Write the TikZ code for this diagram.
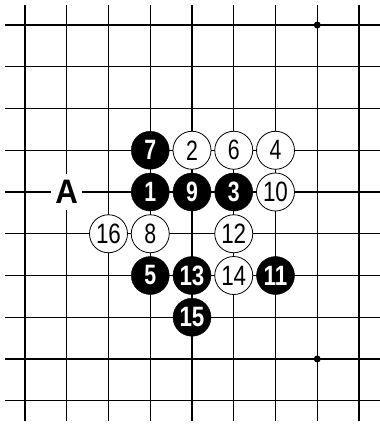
\documentclass[tikz,border=0pt]{standalone}
\usepackage{graphicx}
\usepackage{fontspec}
\setmainfont{Liberation Sans}
\newcommand\gx[1]{25+41.75*#1}
\newcommand\onedig[1]{\scalebox{0.76}[1]{#1}}
\newcommand\twodig[1]{\scalebox{0.8}[1]{#1}}
\newcommand\stn[5]{\node[#4] (#1) at ({\gx{#2}},{\gx{#3}}) {#5};}
\tikzset{
  gridline/.style={line width=1.4pt, line cap=butt},
  stonebase/.style={circle, minimum size=38pt, inner sep=0pt},
  bstone/.style={stonebase, fill=black, draw=black, text=white, font=\fontsize{28}{28}\selectfont\bfseries},
  wstone/.style={stonebase, fill=white, draw=black, line width=0.8pt, text=black, font=\fontsize{28}{28}\selectfont},
  starpt/.style={circle, fill=black, inner sep=0pt, minimum size=7pt},
  marklabel/.style={fill=white, inner sep=0pt, minimum width=31pt, minimum height=36pt, font=\fontsize{34}{34}\selectfont\bfseries}
}
\begin{document}
\begin{tikzpicture}[x=1pt,y=-1pt]
\useasboundingbox (0,0) rectangle (380,429);
\fill[white] (0,0) rectangle (380,429);
\foreach \i in {0,...,8} \draw[gridline] ({\gx{\i}},5) -- ({\gx{\i}},421);
\foreach \j in {0,...,9} \draw[gridline] (5,{\gx{\j}}) -- (380,{\gx{\j}});
\node[starpt] (s1) at ({\gx{7}},{\gx{0}}) {};
\node[starpt] (s2) at ({\gx{7}},{\gx{8}}) {};
\node[marklabel] (A) at ({\gx{1}},{\gx{4}}) {\scalebox{0.92}[1]{A}};
% row 3
\stn{m7}{3}{3}{bstone}{\onedig{7}}
\stn{m2}{4}{3}{wstone}{\onedig{2}}
\stn{m6}{5}{3}{wstone}{\onedig{6}}
\stn{m4}{6}{3}{wstone}{\onedig{4}}
% row 4
\stn{m1}{3}{4}{bstone}{\onedig{1}}
\stn{m9}{4}{4}{bstone}{\onedig{9}}
\stn{m3}{5}{4}{bstone}{\onedig{3}}
\stn{m10}{6}{4}{wstone}{\twodig{10}}
% row 5
\stn{m16}{2}{5}{wstone}{\twodig{16}}
\stn{m8}{3}{5}{wstone}{\onedig{8}}
\stn{m12}{5}{5}{wstone}{\twodig{12}}
% row 6
\stn{m5}{3}{6}{bstone}{\onedig{5}}
\stn{m13}{4}{6}{bstone}{\twodig{13}}
\stn{m14}{5}{6}{wstone}{\twodig{14}}
\stn{m11}{6}{6}{bstone}{\twodig{11}}
% row 7
\stn{m15}{4}{7}{bstone}{\twodig{15}}
\end{tikzpicture}
\end{document}
